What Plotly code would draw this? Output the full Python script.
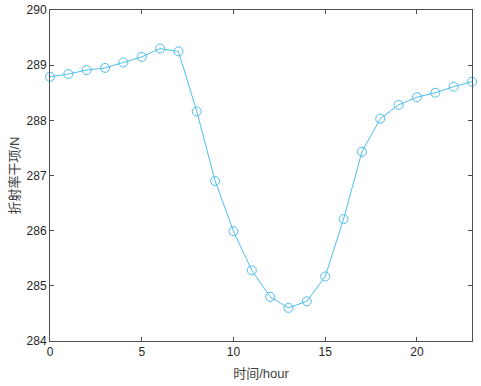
import plotly.graph_objects as go

hours = list(range(24))
values = [288.79, 288.84, 288.91, 288.95, 289.05, 289.15, 289.30, 289.25,
          288.16, 286.90, 285.99, 285.28, 284.80, 284.60, 284.72, 285.17,
          286.21, 287.43, 288.03, 288.28, 288.42, 288.50, 288.61, 288.70]

x_ticks = [0, 5, 10, 15, 20]
y_ticks = [284, 285, 286, 287, 288, 289, 290]

color = "#4DBEEE"
axis_color = "#4d4d4d"
text_color = "#262626"

fig = go.Figure()
fig.add_trace(go.Scatter(
    x=hours, y=values, mode="lines+markers",
    line=dict(color=color, width=1),
    marker=dict(symbol="circle-open", size=9, color=color, line=dict(width=1, color=color)),
    showlegend=False,
    cliponaxis=False,
))

font = dict(family="Arial, 'Liberation Sans', 'Noto Sans CJK SC', sans-serif", size=12, color=text_color)
title_font = dict(family="Arial, 'Liberation Sans', 'Noto Sans CJK SC', sans-serif", size=13, color="#404040")

fig.update_layout(
    width=481, height=386,
    margin=dict(l=50, r=9, t=10, b=45),
    paper_bgcolor="white", plot_bgcolor="white",
    font=font,
    xaxis=dict(
        range=[0, 23], tickvals=x_ticks, ticks="inside", ticklen=4, tickcolor=axis_color,
        showline=True, linecolor=axis_color, linewidth=1, mirror="ticks",
        showgrid=False, zeroline=False, automargin=False,
        title=dict(text="时间/hour", font=title_font, standoff=10),
    ),
    yaxis=dict(
        range=[284, 290], tickvals=y_ticks, ticks="inside", ticklen=4, tickcolor=axis_color,
        showline=True, linecolor=axis_color, linewidth=1, mirror="ticks",
        showgrid=False, zeroline=False, automargin=False,
        title=dict(text="折射率干项/N", font=title_font, standoff=4),
    ),
)

fig.write_html("out.html", config={"displayModeBar": False},
               post_script="document.body.style.margin='0';document.body.style.overflow='hidden';")
